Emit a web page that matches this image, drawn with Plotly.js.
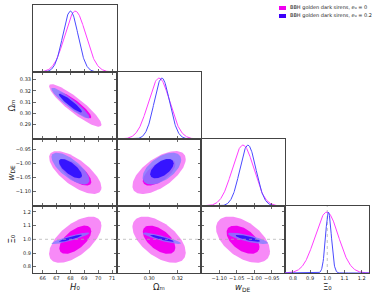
<!DOCTYPE html>
<html><head><meta charset="utf-8">
<script src="https://cdn.plot.ly/plotly-3.0.1.min.js"></script>
<style>html,body{margin:0;padding:0;background:#fff}#chart{width:374px;height:297px}</style>
</head><body><div id="chart"></div>
<script>
// ---------- data ----------
const paramLabels = ['<i>H</i>₀', 'Ωₘ', '<i>w</i><sub>DE</sub>', 'Ξ₀'];
const seriesNames = ['BBH golden dark sirens, <i>e</i>₀ = 0',
                     'BBH golden dark sirens, <i>e</i>₀ = 0.2'];
// posterior summaries: H0, Omega_m, w_DE, Xi0
const meanE0   = [68.35, 0.3070, -1.032, 0.997];
const sigmaE0  = [0.76, 0.0076, 0.031, 0.068];
const meanE02  = [68.00, 0.3090, -1.018, 1.007];
const sigmaE02 = [0.55, 0.0055, 0.023, 0.017];
// correlation coefficients for pairs (H0,Om),(H0,w),(Om,w),(H0,Xi),(Om,Xi),(w,Xi)
const corrE0  = [-0.90, -0.70, 0.62, 0.60, -0.55, -0.50];
const corrE02 = [-0.93, -0.72, 0.55, 0.90, -0.90, -0.80];
const fiducialXi0 = 1.0;
// axes
const axisRanges = [[65.3, 71.36], [0.2772, 0.3367], [-1.152, -0.912], [0.754, 1.243]];
const xTickVals = [[66, 67, 68, 69, 70, 71], [0.30, 0.32], [-1.10, -1.05, -1.00, -0.95], [0.8, 0.9, 1.0, 1.1, 1.2]];
const xTickText = [['66', '67', '68', '69', '70', '71'], ['0.30', '0.32'], ['−1.10', '−1.05', '−1.00', '−0.95'], ['0.8', '0.9', '1.0', '1.1', '1.2']];
const yTickVals = [[], [0.29, 0.30, 0.31, 0.32, 0.33], [-1.10, -1.05, -1.00, -0.95], [0.8, 0.9, 1.0, 1.1, 1.2]];
const yTickText = [[], ['0.29', '0.30', '0.31', '0.32', '0.33'], ['−1.10', '−1.05', '−1.00', '−0.95'], ['0.8', '0.9', '1.0', '1.1', '1.2']];
// 2D contour levels (95% and 68% of a 2D gaussian, delta chi^2)
const contourChi2 = [6.17, 2.30];

// ---------- styles ----------
const lineColors = ['#ff3dff', '#4a4aff'];
const fillColors = [['rgb(247,138,247)', 'rgb(240,0,240)'],
                    ['rgba(128,128,255,0.8)', 'rgba(30,0,255,0.8)']];
const frameColor = '#444';
const FONT = 'DejaVu Sans, sans-serif';

const series = [
  {mean: meanE0, sigma: sigmaE0, corr: corrE0},
  {mean: meanE02, sigma: sigmaE02, corr: corrE02}
];
function pairIndex(i, j) { // i<j
  const map = {'0,1': 0, '0,2': 1, '1,2': 2, '0,3': 3, '1,3': 4, '2,3': 5};
  return map[i + ',' + j];
}

const traces = [];
const layout = {
  width: 374, height: 297,
  margin: {l: 33, r: 5, t: 5, b: 24},
  paper_bgcolor: '#fff', plot_bgcolor: '#fff',
  showlegend: false,
  font: {family: FONT, size: 5, color: '#222'},
  shapes: [], annotations: []
};

let k = 0;
for (let r = 0; r < 4; r++) {
  for (let c = 0; c <= r; c++) {
    k++;
    const xa = k === 1 ? 'xaxis' : 'xaxis' + k;
    const ya = k === 1 ? 'yaxis' : 'yaxis' + k;
    const xr = k === 1 ? 'x' : 'x' + k;
    const yr = k === 1 ? 'y' : 'y' + k;
    const diag = (r === c);
    layout[xa] = {
      domain: [c / 4, (c + 1) / 4], anchor: yr, range: axisRanges[c],
      tickmode: 'array', tickvals: xTickVals[c], ticktext: xTickText[c],
      showticklabels: r === 3, ticks: 'inside', ticklen: 3, tickwidth: 0.8, tickcolor: frameColor,
      showline: true, linecolor: frameColor, linewidth: 1, mirror: diag ? true : 'ticks',
      showgrid: false, zeroline: false, fixedrange: true,
      tickfont: {family: FONT, size: 5, color: '#222'}
    };
    if (diag) {
      layout[ya] = {
        domain: [1 - (r + 1) / 4, 1 - r / 4], anchor: xr, range: [0, 1.1],
        showticklabels: false, ticks: '', showline: true, linecolor: frameColor, linewidth: 1,
        mirror: true, showgrid: false, zeroline: false, fixedrange: true
      };
      const [lo, hi] = axisRanges[c];
      series.forEach((s, si) => {
        const xs = [], ys = [];
        for (let n = 0; n <= 240; n++) {
          const x = lo + (hi - lo) * n / 240;
          xs.push(x);
          ys.push(Math.exp(-0.5 * Math.pow((x - s.mean[c]) / s.sigma[c], 2)));
        }
        traces.push({type: 'scatter', mode: 'lines', x: xs, y: ys, xaxis: xr, yaxis: yr,
          line: {color: lineColors[si], width: 1}, hoverinfo: 'skip'});
      });
      if (c === 3) {
        layout.shapes.push({type: 'line', xref: xr, yref: yr + ' domain', x0: fiducialXi0, x1: fiducialXi0, y0: 0, y1: 1,
          line: {color: '#aaa', width: 0.7, dash: 'dot'}, layer: 'below'});
      }
    } else {
      layout[ya] = {
        domain: [1 - (r + 1) / 4, 1 - r / 4], anchor: xr, range: axisRanges[r],
        tickmode: 'array', tickvals: yTickVals[r], ticktext: yTickText[r],
        showticklabels: c === 0, ticks: 'inside', ticklen: 3, tickwidth: 0.8, tickcolor: frameColor,
        showline: true, linecolor: frameColor, linewidth: 1, mirror: 'ticks',
        showgrid: false, zeroline: false, fixedrange: true,
        tickfont: {family: FONT, size: 5, color: '#222'}
      };
      series.forEach((s, si) => {
        const rho = s.corr[pairIndex(c, r)];
        const sx = s.sigma[c], sy = s.sigma[r], mx = s.mean[c], my = s.mean[r];
        contourChi2.forEach((chi2, li) => {
          const rad = Math.sqrt(chi2);
          const xs = [], ys = [];
          for (let n = 0; n <= 120; n++) {
            const t = 2 * Math.PI * n / 120;
            xs.push(mx + rad * sx * Math.cos(t));
            ys.push(my + rad * sy * (rho * Math.cos(t) + Math.sqrt(1 - rho * rho) * Math.sin(t)));
          }
          traces.push({type: 'scatter', mode: 'lines', x: xs, y: ys, xaxis: xr, yaxis: yr,
            fill: 'toself', fillcolor: fillColors[si][li], line: {width: 0}, hoverinfo: 'skip'});
        });
      });
      if (r === 3) {
        layout.shapes.push({type: 'line', xref: xr + ' domain', yref: yr, x0: 0, x1: 1, y0: fiducialXi0, y1: fiducialXi0,
          line: {color: '#aaa', width: 0.7, dash: 'dot'}});
      }
    }
  }
}

// axis titles
for (let c = 0; c < 4; c++) {
  layout.annotations.push({xref: 'paper', yref: 'paper', x: (c + 0.5) / 4, y: 0, yshift: -14,
    text: paramLabels[c], showarrow: false, font: {family: FONT, size: 8.5, color: '#222'},
    xanchor: 'center', yanchor: 'middle'});
}
for (let r = 1; r < 4; r++) {
  layout.annotations.push({xref: 'paper', yref: 'paper', x: 0, xshift: -22, y: 1 - (r + 0.5) / 4,
    text: paramLabels[r], showarrow: false, textangle: -90, font: {family: FONT, size: 8.5, color: '#222'},
    xanchor: 'center', yanchor: 'middle'});
}
// legend (upper right empty area)
const legendColors = [fillColors[0][1], 'rgb(60,0,250)'];
seriesNames.forEach((name, i) => {
  const yc = 8 + i * 8; // px from top
  layout.shapes.push({type: 'rect', xref: 'paper', yref: 'paper',
    x0: (279 - 33) / 336, x1: (286 - 33) / 336,
    y0: 1 - (yc + 2 - 5) / 268, y1: 1 - (yc - 2 - 5) / 268,
    fillcolor: legendColors[i], line: {width: 0}});
  layout.annotations.push({xref: 'paper', yref: 'paper', x: (288 - 33) / 336, y: 1 - (yc - 5) / 268,
    text: name, showarrow: false, xanchor: 'left', yanchor: 'middle',
    font: {family: FONT, size: 5, color: '#222'}});
});

Plotly.newPlot('chart', traces, layout, {staticPlot: true, displayModeBar: false});
</script></body></html>
